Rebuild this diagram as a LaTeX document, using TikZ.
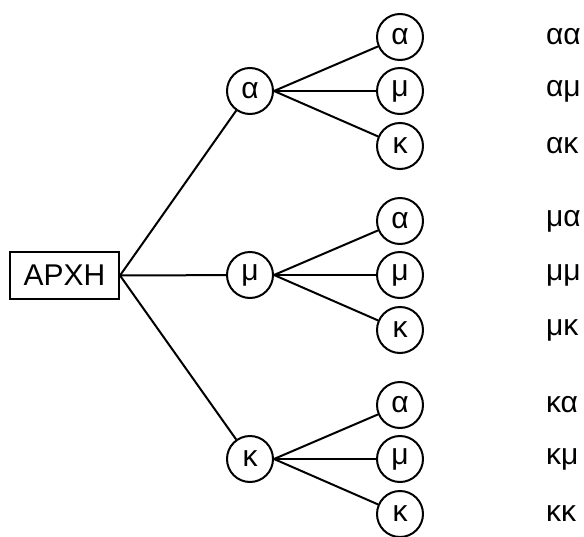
\documentclass[tikz,border=0pt]{standalone}
\usepackage{fontspec}
\setmainfont{Liberation Sans}
\begin{document}
\begin{tikzpicture}[x=1pt,y=-1pt,line width=2pt,
  font=\fontsize{30}{36}\selectfont,
  startbox/.style={draw,minimum width=109pt,minimum height=47pt,inner sep=0pt},
  letter/.style={draw,circle,minimum size=46pt,inner sep=0pt},
  outcome/.style={anchor=west,inner sep=0pt},
  edge/.style={draw,line width=2pt}]
\useasboundingbox (0,0) rectangle (584,536);
\node[startbox] (start) at (64.5,275.5) {ΑΡΧΗ};
\node[letter] (a) at (250,91) {α};
\node[letter] (m) at (250,275) {μ};
\node[letter] (k) at (250,459) {κ};
\node[letter] (aa) at (400,37) {α};
\node[letter] (am) at (400,91) {μ};
\node[letter] (ak) at (400,146) {κ};
\node[letter] (ma) at (400,221) {α};
\node[letter] (mm) at (400,275) {μ};
\node[letter] (mk) at (400,330) {κ};
\node[letter] (ka) at (400,405) {α};
\node[letter] (km) at (400,459) {μ};
\node[letter] (kk) at (400,514) {κ};
\node[outcome] (laa) at (545,37) {αα};
\node[outcome] (lam) at (545,91) {αμ};
\node[outcome] (lak) at (545,146) {ακ};
\node[outcome] (lma) at (545,221) {μα};
\node[outcome] (lmm) at (545,275) {μμ};
\node[outcome] (lmk) at (545,330) {μκ};
\node[outcome] (lka) at (545,405) {κα};
\node[outcome] (lkm) at (545,459) {κμ};
\node[outcome] (lkk) at (545,514) {κκ};
\foreach \t in {a,m,k} {\draw[edge] (start.east) -- (\t);}
\foreach \p in {a,m,k} {
  \foreach \t in {a,m,k} {\draw[edge] (\p.east) -- (\p\t);}
}
\end{tikzpicture}
\end{document}
